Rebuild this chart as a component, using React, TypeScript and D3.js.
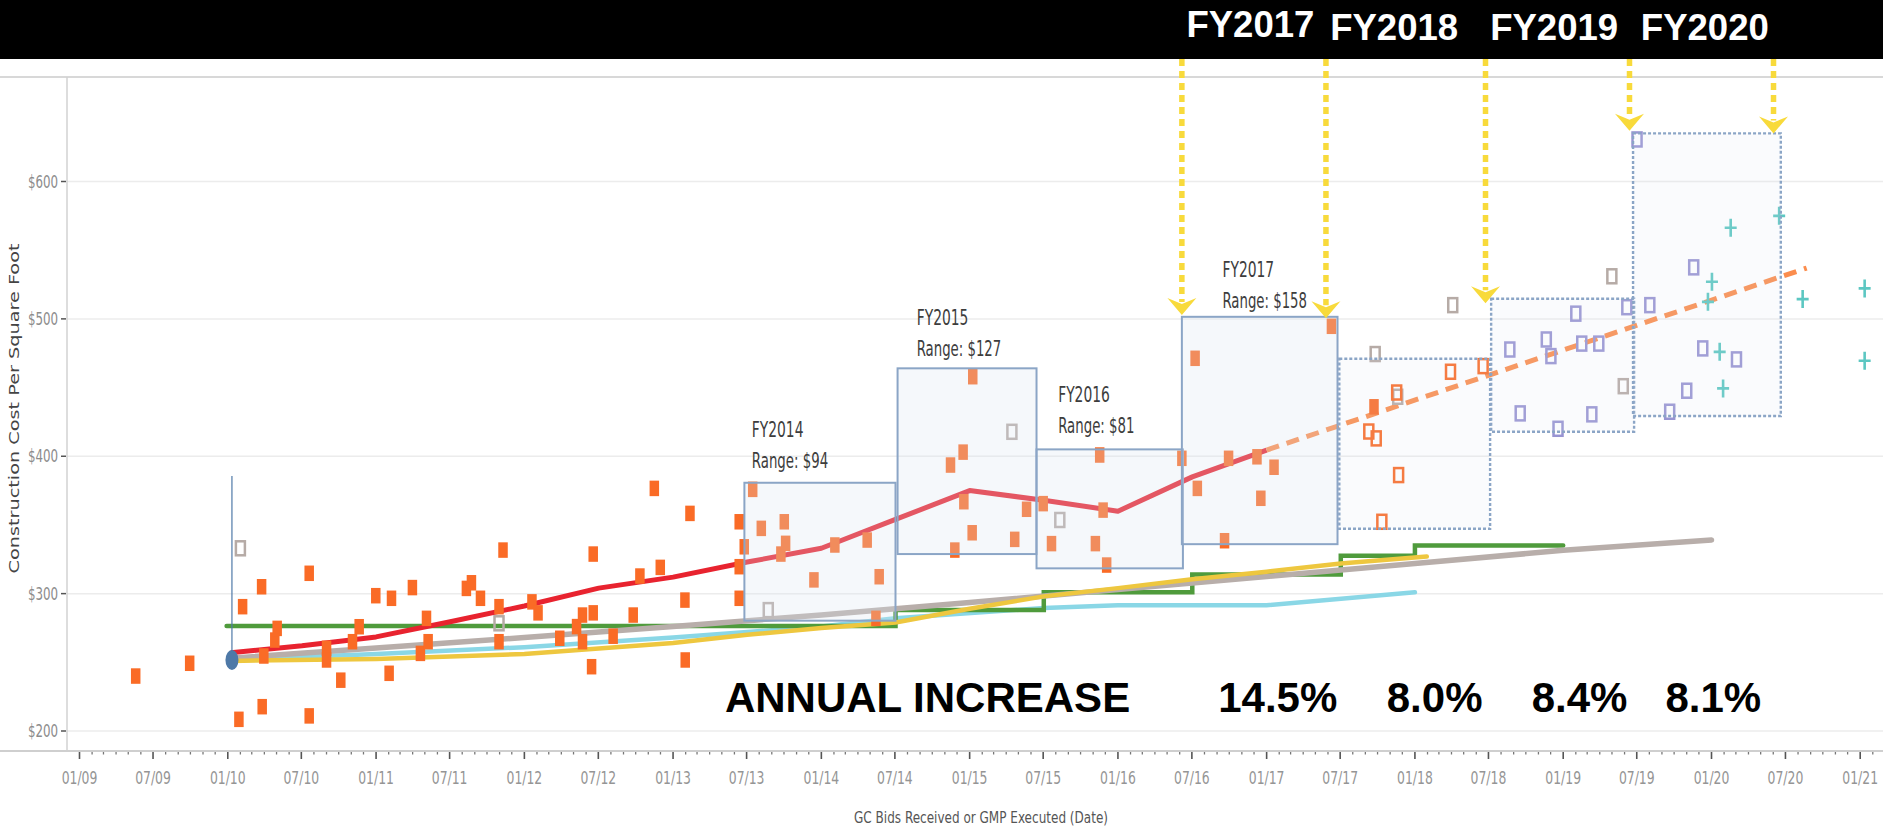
import React from "react";
import * as d3 from "d3";

const W = 1883;
const H = 836;

// ---------------- data (time as decimal year, value in $ / sq ft) ----------------
const yTickValues = [200, 300, 400, 500, 600];

const fiscalYears = ["FY2014", "FY2015", "FY2016", "FY2017", "FY2018", "FY2019", "FY2020"];
const fyStart = [2013.481, 2014.514, 2015.451, 2016.43, 2017.49, 2018.514, 2019.471];
const fyEnd = [2014.5, 2015.451, 2016.437, 2017.478, 2018.507, 2019.478, 2020.466];
const fyHigh = [380.7, 464, 405, 501.5, 471, 514.6, 635];
const fyLow = [280.3, 328.8, 318.4, 336, 347.2, 417.8, 429.3];
const fyProjected = [false, false, false, false, true, true, true];

const rangeLabelFY = ["FY2014", "FY2015", "FY2016", "FY2017"];
const rangeLabelText = ["Range: $94", "Range: $127", "Range: $81", "Range: $158"];
const rangeLabelT = [2013.531, 2014.643, 2015.597, 2016.703];
const rangeLabelV = [391.2, 473, 416.7, 507.7];

const headerLabels = ["FY2017", "FY2018", "FY2019", "FY2020"];
const headerT = [2016.891, 2017.86, 2018.939, 2019.955];

const arrowT = [2016.43, 2017.4, 2018.476, 2019.447, 2020.417];
const arrowV = [502.8, 500.4, 511.3, 637, 635];

const annualLabels = ["ANNUAL INCREASE", "14.5%", "8.0%", "8.4%", "8.1%"];
const annualT = [2014.716, 2017.075, 2018.133, 2019.11, 2020.012];

const redLine: [number, number][] = [
  [2010.02, 257], [2010.5, 262], [2011, 268.5], [2011.5, 279.5], [2012, 291],
  [2012.5, 304], [2013, 312], [2013.5, 323], [2014, 333], [2014.5, 354],
  [2015, 375], [2015.5, 368], [2016, 360], [2016.5, 385], [2017.0, 404.5],
];
const trendLine: [number, number][] = [[2017.0, 404.5], [2020.64, 537]];
const greenStep: [number, number][] = [
  [2009.992, 276.5], [2014.5, 288], [2015.5, 301], [2016.5, 314],
  [2017.5, 327.5], [2018.0, 335], [2019.0, 335],
];
const yellowLine: [number, number][] = [
  [2010.02, 251], [2011, 252.5], [2012, 256], [2013, 264], [2013.5, 270],
  [2014, 275], [2014.5, 279], [2015, 289], [2015.5, 298], [2016, 304],
  [2016.5, 310.5], [2017, 316], [2017.5, 322], [2018.08, 327],
];
const grayLine: [number, number][] = [
  [2010.02, 253], [2011, 260.5], [2012, 268], [2013, 276], [2014, 284.5],
  [2015, 293.5], [2016, 303], [2017, 312.5], [2018, 322], [2019, 331.5], [2020, 339],
];
const cyanLine: [number, number][] = [
  [2010.02, 252], [2011, 256], [2012, 261], [2013, 268], [2014, 276],
  [2014.5, 282], [2015.5, 289.5], [2016, 291.5], [2017, 291.5], [2018, 301],
];

const refPoint: [number, number] = [2010.028, 251.7];
const refTop = 385.6;

const orangeFilled: [number, number][] = [
  [2009.379, 240], [2009.743, 249.3], [2010.075, 208.5], [2010.1, 290.5], [2010.228, 305],
  [2010.232, 217.7], [2010.243, 254.6], [2010.317, 266.2], [2010.333, 274.7], [2010.549, 314.8],
  [2010.549, 211], [2010.666, 260.2], [2010.666, 251.7], [2010.762, 237], [2010.841, 265],
  [2010.886, 275.9], [2010.998, 298.5], [2011.088, 242], [2011.104, 296.6], [2011.245, 304.4],
  [2011.299, 256.5], [2011.34, 282], [2011.351, 265], [2011.609, 303.8], [2011.643, 307.9],
  [2011.704, 296.6], [2011.829, 290.5], [2011.829, 265], [2011.856, 331.7], [2012.051, 294],
  [2012.092, 286], [2012.238, 267.5], [2012.351, 276], [2012.391, 284.4], [2012.391, 265],
  [2012.452, 246.8], [2012.463, 328.8], [2012.463, 286], [2012.597, 269], [2012.732, 284.4],
  [2012.777, 312.8], [2012.874, 376.6], [2012.914, 319.1], [2013.08, 295.3], [2013.082, 251.7],
  [2013.114, 358.4], [2013.446, 352.3], [2013.446, 319.6], [2013.446, 296.6], [2013.48, 334.1],
  [2013.537, 375.9], [2013.595, 347.5], [2013.727, 328.8], [2013.75, 352.3], [2013.759, 336.6],
  [2013.95, 310], [2014.091, 335.4], [2014.309, 339], [2014.39, 312.3], [2014.368, 282],
  [2014.871, 393.6], [2014.9, 331.7], [2014.956, 403], [2014.961, 366.9], [2015.017, 344.3],
  [2015.021, 457.9], [2015.304, 339.5], [2015.384, 361.4], [2015.496, 365.5], [2015.552, 336.4],
  [2015.848, 336.4], [2015.877, 400.9], [2015.9, 360.8], [2015.924, 320.8], [2016.43, 398.5],
  [2016.519, 471.3], [2016.534, 376.6], [2016.717, 338.5], [2016.744, 398.5], [2016.935, 399.6],
  [2016.961, 369.4], [2017.05, 392], [2017.437, 494.6], [2017.724, 436],
];
const orangeHollow: [number, number][] = [
  [2017.689, 418], [2017.739, 413], [2017.877, 446.4], [2017.89, 386.3],
  [2017.777, 352.3], [2018.24, 461.5], [2018.46, 465.6],
];
const grayHollow: [number, number][] = [
  [2010.085, 333], [2011.829, 278.4], [2013.642, 288], [2015.608, 353.6], [2015.285, 417.8],
  [2017.732, 474.4], [2017.884, 443.3], [2018.255, 510], [2019.328, 531], [2019.405, 451],
];
const purpleHollow: [number, number][] = [
  [2018.64, 477.7], [2018.71, 431.2], [2018.886, 485], [2018.917, 472.9], [2018.965, 420],
  [2019.085, 503.8], [2019.125, 482], [2019.193, 430.5], [2019.24, 482], [2019.429, 508.5],
  [2019.498, 630.6], [2019.584, 510], [2019.718, 432.4], [2019.833, 447.7], [2019.88, 537.5],
  [2019.941, 478.5], [2020.168, 470.5],
];
const tealPlus: [number, number][] = [
  [2019.976, 512.4], [2020.003, 527], [2020.055, 476], [2020.078, 449.4], [2020.129, 566.3],
  [2020.455, 575], [2020.613, 514.4], [2021.03, 522.2], [2021.03, 469.5],
];

// ---------------- helpers ----------------
const toDate = (t: number) => {
  const yr = Math.floor(t);
  const a = Date.UTC(yr, 0, 1);
  const b = Date.UTC(yr + 1, 0, 1);
  return new Date(a + (t - yr) * (b - a));
};

// Arial advance widths (em); narrow face ~0.82 of these
const ARIAL: Record<string, number> = {
  "0": 0.556, "1": 0.556, "2": 0.556, "3": 0.556, "4": 0.556, "5": 0.556, "6": 0.556,
  "7": 0.556, "8": 0.556, "9": 0.556, "$": 0.556, "/": 0.278, ":": 0.278, " ": 0.278,
  ".": 0.278, "(": 0.333, ")": 0.333, "%": 0.889,
  A: 0.667, B: 0.667, C: 0.722, D: 0.722, E: 0.667, F: 0.611, G: 0.778, M: 0.833,
  P: 0.667, R: 0.722, Y: 0.667,
  a: 0.556, b: 0.556, c: 0.5, d: 0.556, e: 0.556, g: 0.556, i: 0.222, n: 0.556,
  o: 0.556, r: 0.333, s: 0.5, t: 0.278, u: 0.556, v: 0.5, x: 0.5,
};
const narrowWidth = (s: string, size: number) =>
  s.split("").reduce((acc, ch) => acc + (ARIAL[ch] ?? 0.556), 0) * 0.82 * size;

const NARROW = "'Liberation Sans Narrow', 'Arial Narrow', 'DejaVu Sans Condensed', sans-serif";
const BOLD = "'Liberation Sans', Arial, Helvetica, sans-serif";

export default function App() {
  const x = d3
    .scaleUtc()
    .domain([new Date(Date.UTC(2009, 0, 1)), new Date(Date.UTC(2021, 0, 1))])
    .range([79.5, 1860.2]);
  const y = d3.scaleLinear().domain([200, 600]).range([731, 181.5]);
  const X = (t: number) => x(toDate(t));

  const axisLeft = 67;
  const axisBottom = 751;
  const months = d3.utcMonth.range(x.invert(axisLeft), x.invert(W));
  const fmt = d3.utcFormat("%m/%y");

  const line = d3
    .line<[number, number]>()
    .x((d) => X(d[0]))
    .y((d) => y(d[1]));
  const stepLine = d3
    .line<[number, number]>()
    .x((d) => X(d[0]))
    .y((d) => y(d[1]))
    .curve(d3.curveStepAfter);

  const MW = 9.5;
  const MH = 15.5;
  const HW = 9;
  const HH = 14;

  const hollow = (data: [number, number][], color: string, key: string) =>
    data.map((d, i) => (
      <rect
        key={key + i}
        x={X(d[0]) - HW / 2}
        y={y(d[1]) - HH / 2}
        width={HW}
        height={HH}
        fill="none"
        stroke={color}
        strokeWidth={2.5}
      />
    ));

  const xAxisTitle = "GC Bids Received or GMP Executed (Date)";

  return (
    <svg
      width={W}
      height={H}
      style={{ position: "absolute", left: 0, top: 0, background: "#fff" }}
    >
      <rect x={0} y={0} width={W} height={H} fill="#fff" />
      {/* top band */}
      <rect x={0} y={0} width={W} height={59} fill="#000" />
      <line x1={0} x2={W} y1={77} y2={77} stroke="#d8d8d8" strokeWidth={2} />

      {/* gridlines */}
      {yTickValues.map((v) => (
        <line key={"g" + v} x1={axisLeft} x2={W} y1={y(v)} y2={y(v)} stroke="#ececec" strokeWidth={1.5} />
      ))}

      {/* axes */}
      <line x1={axisLeft} x2={axisLeft} y1={77} y2={axisBottom} stroke="#d2d2d2" strokeWidth={1.5} />
      <line x1={0} x2={W} y1={axisBottom} y2={axisBottom} stroke="#cfcfcf" strokeWidth={2} />
      {yTickValues.map((v) => {
        const label = "$" + v;
        return (
          <g key={"yt" + v}>
            <line x1={61} x2={66} y1={y(v)} y2={y(v)} stroke="#555" strokeWidth={1.5} />
            <text
              x={58}
              y={y(v)}
              dy="0.36em"
              textAnchor="end"
              fontFamily={NARROW}
              fontSize={17}
              fill="#8c8c8c"
              textLength={narrowWidth(label, 16.5)}
              lengthAdjust="spacingAndGlyphs"
            >
              {label}
            </text>
          </g>
        );
      })}
      {months.map((m) => {
        const major = m.getUTCMonth() % 6 === 0;
        const px = x(m);
        const label = fmt(m);
        return (
          <g key={"xt" + +m}>
            <line
              x1={px}
              x2={px}
              y1={axisBottom + 1}
              y2={axisBottom + (major ? 8 : 3.5)}
              stroke={major ? "#555" : "#777"}
              strokeWidth={major ? 1.6 : 1.3}
            />
            {major && (
              <text
                x={px}
                y={784}
                textAnchor="middle"
                fontFamily={NARROW}
                fontSize={17.5}
                fill="#959595"
                textLength={narrowWidth(label, 17.4)}
                lengthAdjust="spacingAndGlyphs"
              >
                {label}
              </text>
            )}
          </g>
        );
      })}
      <text
        x={981}
        y={822.5}
        textAnchor="middle"
        fontFamily={NARROW}
        fontSize={16.5}
        fill="#555"
        textLength={254}
        lengthAdjust="spacingAndGlyphs"
      >
        {xAxisTitle}
      </text>
      <text
        transform="translate(18.5,408.5) rotate(-90)"
        textAnchor="middle"
        fontFamily="'DejaVu Sans', Verdana, sans-serif"
        fontSize={14.5}
        fill="#444"
        textLength={330}
        lengthAdjust="spacingAndGlyphs"
      >
        Construction Cost Per Square Foot
      </text>

      {/* reference lines */}
      <path d={line(cyanLine) || ""} fill="none" stroke="#8ad7e6" strokeWidth={4.5} strokeLinecap="round" />
      <path d={stepLine(greenStep) || ""} fill="none" stroke="#4f9b3c" strokeWidth={4.5} strokeLinecap="round" />
      <path d={line(grayLine) || ""} fill="none" stroke="#b8aeaa" strokeWidth={5.5} strokeLinecap="round" />
      <path d={line(yellowLine) || ""} fill="none" stroke="#eec73f" strokeWidth={4.5} strokeLinecap="round" />
      <path d={line(redLine) || ""} fill="none" stroke="#e8232f" strokeWidth={5} strokeLinejoin="round" />
      <path
        d={line(trendLine) || ""}
        fill="none"
        stroke="#fb8d4d"
        strokeWidth={5}
        strokeDasharray="13 8"
      />

      {/* points */}
      {orangeFilled.map((d, i) => (
        <rect key={"of" + i} x={X(d[0]) - MW / 2} y={y(d[1]) - MH / 2} width={MW} height={MH} fill="#fa6b26" />
      ))}
      {hollow(grayHollow, "#b6aba6", "gh")}
      {hollow(orangeHollow, "#fa6b26", "oh")}
      {hollow(purpleHollow, "#9894d2", "ph")}
      {tealPlus.map((d, i) => {
        const cx = X(d[0]);
        const cy = y(d[1]);
        return (
          <path
            key={"tp" + i}
            d={`M${cx - 6},${cy} L${cx + 6},${cy} M${cx},${cy - 9} L${cx},${cy + 9}`}
            stroke="#5cc7c2"
            strokeWidth={2.6}
            fill="none"
          />
        );
      })}

      {/* fiscal-year range boxes */}
      {fiscalYears.map((fy, i) => {
        const x0 = X(fyStart[i]);
        const x1 = X(fyEnd[i]);
        const y0 = y(fyHigh[i]);
        const y1 = y(fyLow[i]);
        return (
          <rect
            key={"box" + fy}
            x={x0}
            y={y0}
            width={x1 - x0}
            height={y1 - y0}
            fill="#d9e5f1"
            fillOpacity={fyProjected[i] ? 0.14 : 0.27}
            stroke="#8ba5c6"
            strokeWidth={fyProjected[i] ? 2.4 : 2}
            strokeDasharray={fyProjected[i] ? "3 2" : undefined}
          />
        );
      })}

      {/* reference point */}
      <line
        x1={X(refPoint[0])}
        x2={X(refPoint[0])}
        y1={y(refTop)}
        y2={y(refPoint[1])}
        stroke="#4e79a7"
        strokeWidth={1.2}
      />
      <ellipse cx={X(refPoint[0])} cy={y(refPoint[1])} rx={6.5} ry={10} fill="#4e79a7" />

      {/* range labels */}
      {rangeLabelText.map((t, i) => {
        const lx = X(rangeLabelT[i]);
        const ly = y(rangeLabelV[i]);
        return (
          <g key={"rl" + i} fontFamily={NARROW} fontSize={18} fill="#3d3d3d">
            <text
              transform={`translate(${lx},${ly - 31}) scale(1,1.15)`}
              textLength={narrowWidth(rangeLabelFY[i], 18)}
              lengthAdjust="spacingAndGlyphs"
            >
              {rangeLabelFY[i]}
            </text>
            <text
              transform={`translate(${lx},${ly}) scale(1,1.15)`}
              textLength={narrowWidth(t, 18)}
              lengthAdjust="spacingAndGlyphs"
            >
              {t}
            </text>
          </g>
        );
      })}

      {/* annual increase */}
      {annualLabels.map((t, i) => (
        <text
          key={"ai" + i}
          x={X(annualT[i])}
          y={711.5}
          textAnchor="middle"
          fontFamily={BOLD}
          fontWeight="bold"
          fontSize={42}
          fill="#000"
        >
          {t}
        </text>
      ))}

      {/* header labels */}
      {headerLabels.map((t, i) => (
        <text
          key={"hl" + i}
          x={X(headerT[i])}
          y={i === 0 ? 36.5 : 39.5}
          textAnchor="middle"
          fontFamily={BOLD}
          fontWeight="bold"
          fontSize={37}
          fill="#fff"
          textLength={128}
          lengthAdjust="spacingAndGlyphs"
        >
          {t}
        </text>
      ))}

      {/* arrows */}
      {arrowT.map((t, i) => {
        const ax = X(t);
        const ty = y(arrowV[i]);
        return (
          <g key={"ar" + i}>
            <line
              x1={ax}
              x2={ax}
              y1={59}
              y2={ty - 13}
              stroke="#f8da3b"
              strokeWidth={5.5}
              strokeDasharray="7 5"
            />
            <path
              d={`M${ax - 14.5},${ty - 17} L${ax},${ty - 11} L${ax + 14.5},${ty - 17} L${ax},${ty} Z`}
              fill="#f8da3b"
            />
          </g>
        );
      })}
    </svg>
  );
}
